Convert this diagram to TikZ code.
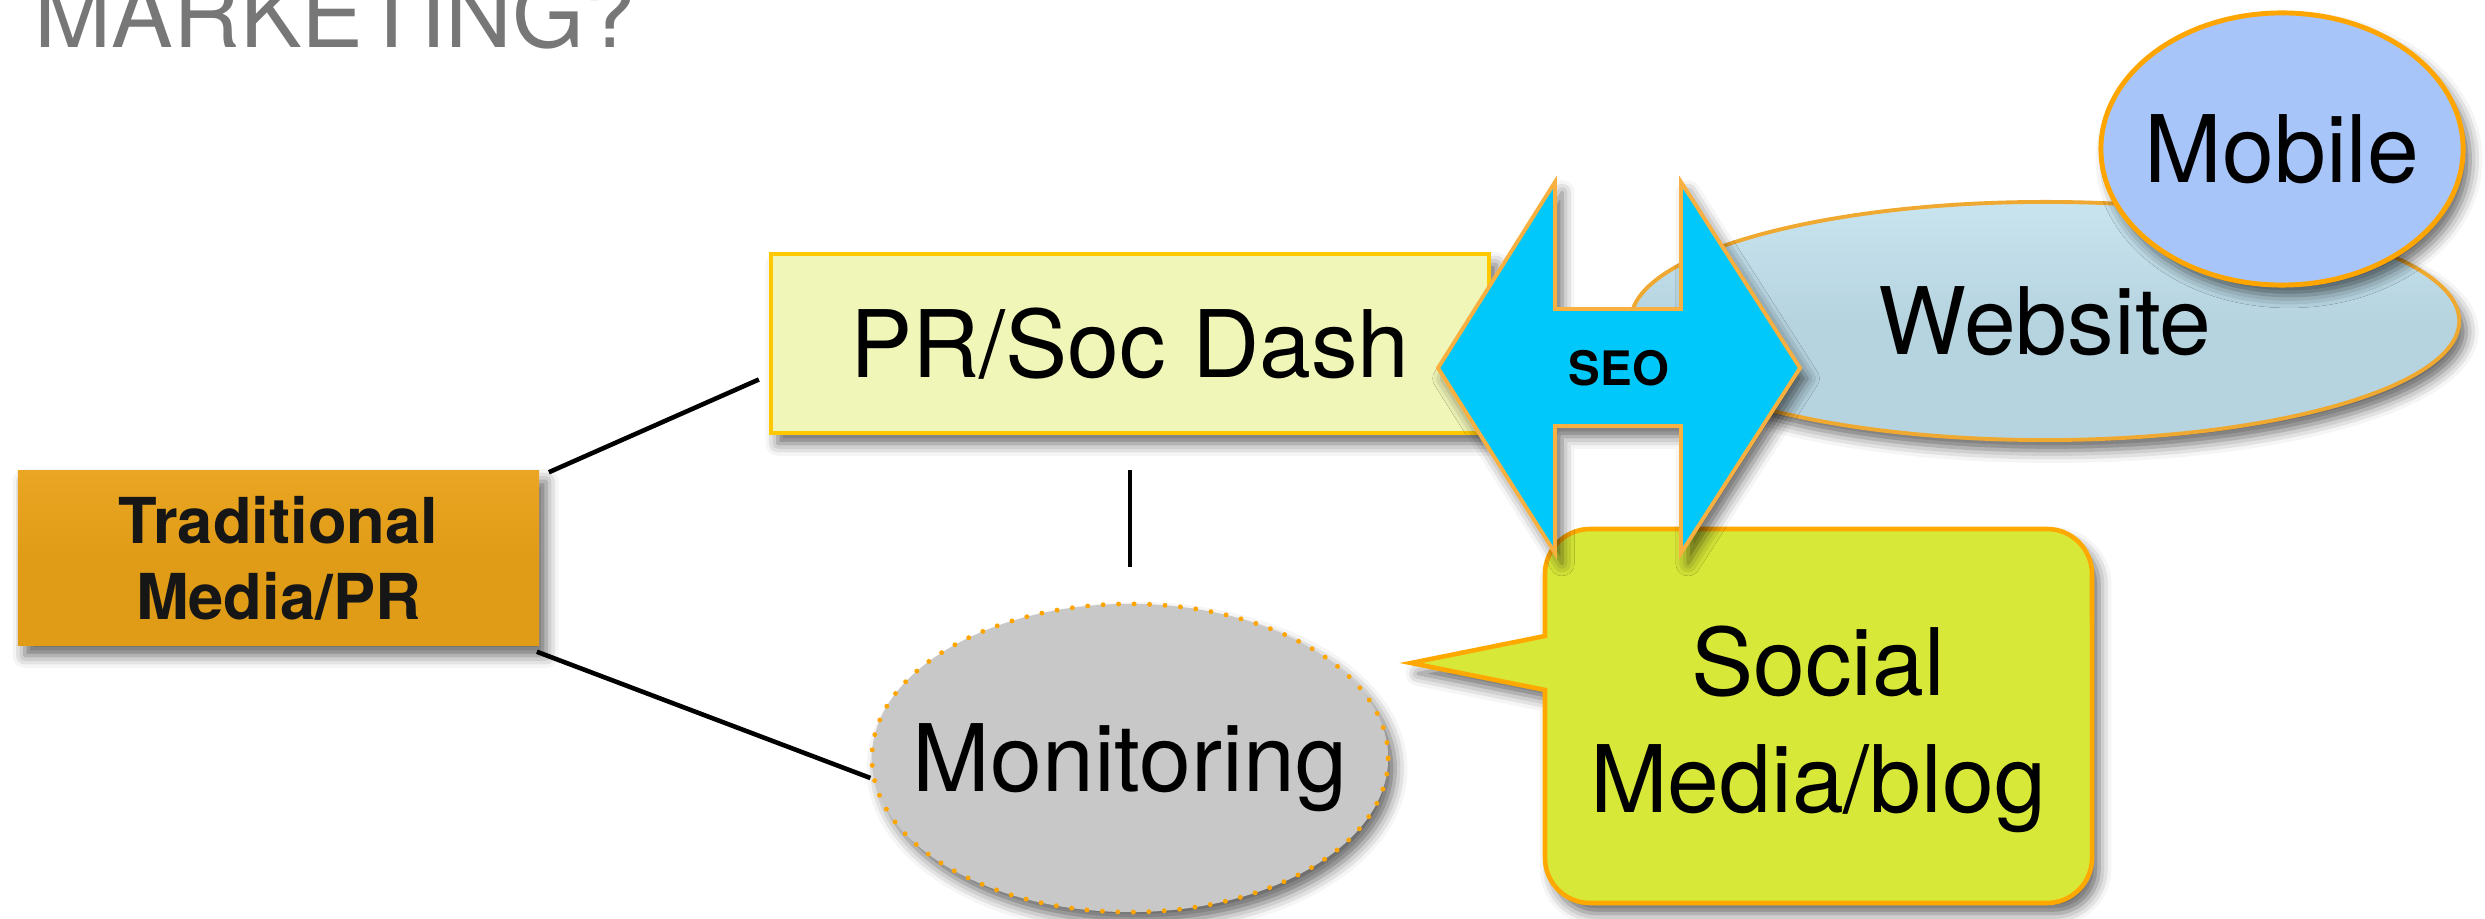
\documentclass[tikz,border=0pt]{standalone}
\usepackage{fontspec}
\setmainfont{TeX Gyre Heros}
\usetikzlibrary{shapes.geometric,shadows.blur}
\definecolor{titlegray}{HTML}{777777}
\definecolor{tradfill}{HTML}{E09C17}
\definecolor{tradtop}{HTML}{EAA622}
\definecolor{prfill}{HTML}{F0F5B8}
\definecolor{prborder}{HTML}{FFC800}
\definecolor{mongray}{HTML}{C8C8C8}
\definecolor{monorange}{HTML}{FFA500}
\definecolor{webfill}{HTML}{B6D4E0}
\definecolor{webtop}{HTML}{C8E4EF}
\definecolor{weborange}{HTML}{EFA830}
\definecolor{mobfill}{HTML}{A8C5FA}
\definecolor{mobborder}{HTML}{FFA500}
\definecolor{callfill}{HTML}{D8E838}
\definecolor{callborder}{HTML}{FFA800}
\definecolor{arrfill}{HTML}{00C8FA}
\definecolor{arrborder}{HTML}{F8B040}
\definecolor{darktext}{HTML}{161616}
\begin{document}
\begin{tikzpicture}[x=0.01cm,y=0.01cm,
  shad/.style={blur shadow={shadow xshift=2pt,shadow yshift=-3pt,shadow blur radius=3.5pt,shadow opacity=60}},
  lbl/.style={font=\fontsize{26.5}{33.3}\selectfont, text=black},
  conn/.style={line width=1.3pt, black}]
\useasboundingbox (0,0) rectangle (2485,918);
\node[anchor=base west, text=titlegray, font=\fontsize{26.3}{30}\selectfont, inner sep=0] (title) at (34,870) {MARKETING?};

\node[rectangle, shad, top color=tradtop, bottom color=tradfill, middle color=tradfill, minimum width=5.21cm, minimum height=1.74cm, inner sep=0, align=center, text=darktext, font=\bfseries\fontsize{18}{21.6}\selectfont] (trad) at (278.5,360) {Traditional\\Media/PR};

\node[rectangle, shad, draw=prborder, line width=1.1pt, fill=prfill, minimum width=7.18cm, minimum height=1.79cm, inner sep=0, lbl] (pr) at (1130,574.5) {PR/Soc Dash};

\node[ellipse, shad, fill=mongray, draw=monorange, line width=1.4pt, dash pattern=on 0pt off 4.4pt, line cap=round, minimum width=5.16cm, minimum height=3.08cm, inner ysep=0, inner xsep=-0.36cm, lbl, text depth=0pt] (mon) at (1130,160) {Monitoring};

\draw[conn] ([shift={(9,-2)}]trad.north east) -- ([shift={(-10,-36)}]pr.west);
\draw[conn] ([shift={(-3,-6)}]trad.south east) -- ([shift={(1,-20)}]mon.west);
\draw[conn, line width=1pt, shorten <=0.35cm, shorten >=0.34cm] (pr.south) -- (mon.north);

\node[ellipse, shad, draw=weborange, line width=1.1pt, top color=webtop, bottom color=webfill, middle color=webfill, minimum width=8.28cm, minimum height=2.38cm, inner sep=0, lbl] (web) at (2045,597) {Website};

\node[ellipse, shad, draw=mobborder, line width=1.4pt, fill=mobfill, minimum width=3.62cm, minimum height=2.72cm, inner ysep=0, inner xsep=-0.12cm, lbl] (mob) at (2282,769) {Mobile};

\path[shad, draw=callborder, line width=1.3pt, fill=callfill, line join=miter]
  (1411,255) -- (1545,228) -- (1545,60) arc[start angle=180,end angle=270,radius=0.45cm]
  -- (2047,15) arc[start angle=270,end angle=360,radius=0.45cm]
  -- (2092,344) arc[start angle=0,end angle=90,radius=0.45cm]
  -- (1590,389) arc[start angle=90,end angle=180,radius=0.45cm]
  -- (1545,282) -- cycle;
\node[lbl, align=center, inner sep=0] (social) at (1818,189) {Social\\Media/blog};

\path[shad, draw=arrborder, line width=1.1pt, fill=arrfill, line join=miter]
  (1438,550) -- (1555,736) -- (1555,609) -- (1681,609) -- (1681,736) -- (1800,550)
  -- (1681,365) -- (1681,492) -- (1555,492) -- (1555,365) -- cycle;
\node[font=\bfseries\fontsize{13.5}{16}\selectfont, text=black, inner sep=0] (seo) at (1619,550) {SEO};
\end{tikzpicture}
\end{document}
